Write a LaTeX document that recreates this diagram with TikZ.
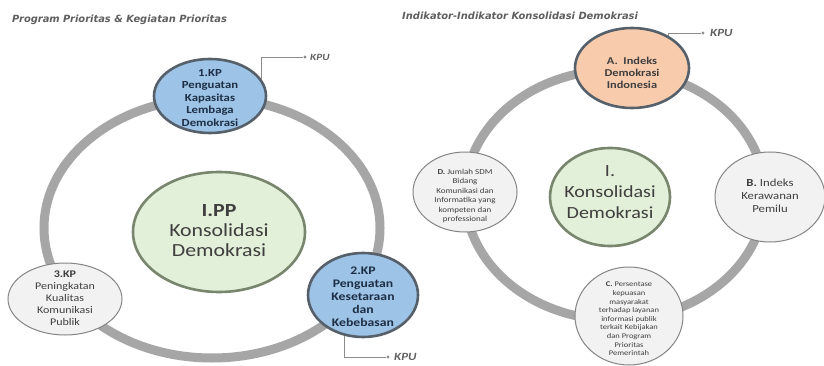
\documentclass[tikz,border=0pt]{standalone}
\usepackage{fontspec}
\setmainfont{Carlito}[FakeStretch=1.18]
\newfontfamily\titlefont{DejaVu Sans}
\usetikzlibrary{shapes.geometric}
\definecolor{ringgray}{HTML}{A6A6A6}
\definecolor{blueF}{HTML}{9DC3E6}
\definecolor{orangeF}{HTML}{F8CBAD}
\definecolor{greenF}{HTML}{E2EFD9}
\definecolor{greenB}{HTML}{78866E}
\definecolor{darkB}{HTML}{56606A}
\definecolor{grayF}{HTML}{F2F2F2}
\definecolor{grayB}{HTML}{858585}
\definecolor{navyT}{HTML}{1E2E44}
\definecolor{textG}{HTML}{3F3F3F}
\definecolor{titleG}{HTML}{5F5F5F}
\definecolor{lineG}{HTML}{8C8C8C}
\tikzset{
  ell/.style={ellipse, inner sep=0pt},
  txt/.style={inner sep=0pt, align=center},
  bluenode/.style={ell, fill=blueF, draw=darkB, line width=2.6pt},
  orangenode/.style={ell, fill=orangeF, draw=darkB, line width=2.6pt},
  greennode/.style={ell, fill=greenF, draw=greenB, line width=2.6pt},
  graynode/.style={ell, fill=grayF, draw=grayB, line width=1pt},
  ring/.style={draw=ringgray, line width=9pt},
  kpuline/.style={draw=lineG, line width=0.9pt},
  kpudot/.style={circle, fill=lineG, inner sep=0pt, minimum size=3.2pt},
  kputext/.style={inner sep=0pt, anchor=west, text=titleG, font=\bfseries\itshape\fontsize{11}{11}\selectfont},
  titletext/.style={inner sep=0pt, anchor=west, text=titleG, font=\titlefont\bfseries\itshape\fontsize{9.9}{10}\selectfont}
}
\begin{document}
\begin{tikzpicture}[x=1pt,y=-1pt]
\useasboundingbox (0,0) rectangle (824,366);
\fill[white] (0,0) rectangle (824,366);

% titles
\node[titletext] (t1) at (12,20) {Program Prioritas \& Kegiatan Prioritas};
\node[titletext] (t2) at (402,16) {Indikator-Indikator Konsolidasi Demokrasi};

% rings
\draw[ring] (212,228) ellipse [x radius=168pt, y radius=130pt];
\draw[ring] (615,195) ellipse [x radius=150pt, y radius=125pt];

% ---- left diagram ----
\node[greennode, minimum width=172pt, minimum height=120pt] (c1) at (219,232) {};
\node[txt, font=\fontsize{18.5}{20}\selectfont, text=textG] (c1t) at (219,231)
  {\textbf{I.PP}\\Konsolidasi\\Demokrasi};

\node[bluenode, minimum width=112pt, minimum height=74pt] (n1) at (210,96) {};
\node[txt, font=\bfseries\fontsize{10.8}{12.5}\selectfont, text=navyT] (n1t) at (210,98)
  {1.KP\\Penguatan\\Kapasitas\\Lembaga\\Demokrasi};

\node[bluenode, minimum width=110pt, minimum height=84pt] (n2) at (363,295) {};
\node[txt, font=\bfseries\fontsize{11.6}{13}\selectfont, text=navyT] (n2t) at (363,297)
  {2.KP\\Penguatan\\Kesetaraan\\dan\\Kebebasan};

\node[graynode, minimum width=114pt, minimum height=72pt] (n3) at (65,299) {};
\node[txt, font=\fontsize{10.2}{12}\selectfont, text=textG] (n3t) at (65,298)
  {\textbf{3.KP}\\Peningkatan\\Kualitas\\Komunikasi\\Publik};

% KPU connectors left
\coordinate (k1) at (305,57);
\node[kpudot] (d1) at (k1) {};
\node[kputext, font=\bfseries\itshape\fontsize{9.5}{10}\selectfont] (kpu1) at (310,57) {KPU};
\draw[kpuline] (n1.18) |- (d1);

\coordinate (k2) at (388,357);
\node[kpudot] (d2) at (k2) {};
\node[kputext] (kpu2) at (394,357) {KPU};
\draw[kpuline] (n2.246) |- (d2);

% ---- right diagram ----
\node[greennode, minimum width=120pt, minimum height=98pt] (c2) at (610,197) {};
\node[txt, font=\fontsize{17}{21}\selectfont, text=textG] (c2t) at (610,192)
  {I.\\Konsolidasi\\Demokrasi};

\node[orangenode, minimum width=114pt, minimum height=80pt] (na) at (632,68) {};
\node[txt, font=\bfseries\fontsize{10.5}{12}\selectfont, text=textG] (nat) at (632,73)
  {A.\ \ Indeks\\Demokrasi\\Indonesia};

\node[graynode, minimum width=110pt, minimum height=90pt] (nb) at (770,197) {};
\node[txt, font=\fontsize{10.8}{13}\selectfont, text=textG] (nbt) at (770,196)
  {\textbf{B.} Indeks\\Kerawanan\\Pemilu};

\node[graynode, minimum width=108pt, minimum height=98pt] (nc) at (629,316) {};
\node[txt, font=\fontsize{7.2}{8.6}\selectfont, text=textG] (nct) at (629,319)
  {\textbf{C.} Persentase\\kepuasan\\masyarakat\\terhadap layanan\\informasi publik\\terkait Kebijakan\\dan Program\\Prioritas\\Pemerintah};

\node[graynode, minimum width=104pt, minimum height=80pt] (nd) at (465,192) {};
\node[txt, font=\fontsize{7.6}{9.4}\selectfont, text=textG] (ndt) at (465,196)
  {\textbf{D.} Jumlah SDM\\Bidang\\Komunikasi dan\\Informatika yang\\kompeten dan\\professional};

\coordinate (kA) at (703,33);
\node[kpudot] (dA) at (kA) {};
\node[kputext] (kpuA) at (710,33) {KPU};
\draw[kpuline] (na.42) |- (dA);
\end{tikzpicture}
\end{document}
